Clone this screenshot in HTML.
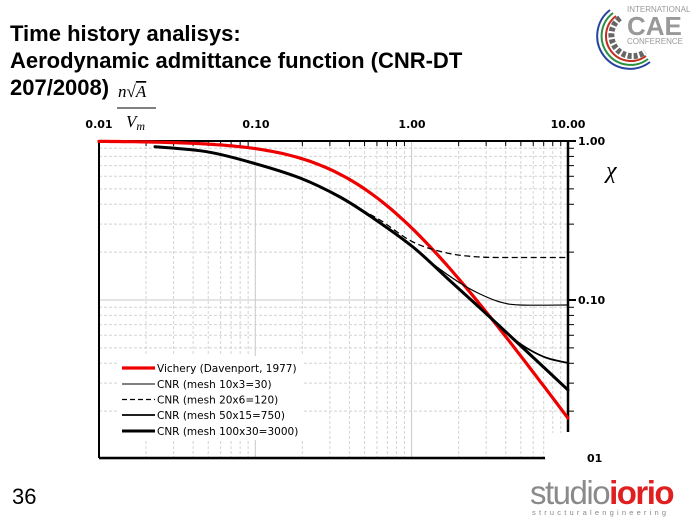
<!DOCTYPE html>
<html><head><meta charset="utf-8"><style>
body{margin:0;width:700px;height:525px;background:#fff;overflow:hidden;position:relative;font-family:"Liberation Sans",sans-serif}
.t{position:absolute;left:10px;font-weight:bold;font-size:22px;color:#000;line-height:27px}
</style></head><body>
<div class="t" style="top:20px">Time history analisys:<br>Aerodynamic admittance function (CNR-DT<br>207/2008)</div>
<svg width="700" height="525" style="position:absolute;left:0;top:0" xmlns="http://www.w3.org/2000/svg">
<g id="grid"></g>
<rect x="118" y="356" width="185" height="84" fill="#fff"/>
<rect x="546" y="433" width="40" height="30" fill="#fff"/>
<g id="ax"></g>
<g fill="none" stroke-linejoin="round" stroke-linecap="round">
<polyline id="red" stroke="#e00" stroke-width="3.2"/>
<path id="c1" stroke="#000" stroke-width="1.2"/>
<path id="c2" stroke="#000" stroke-width="1.3" stroke-dasharray="6,3.5" stroke-linecap="butt"/>
<path id="c3" stroke="#000" stroke-width="1.8"/>
<path id="c4" stroke="#000" stroke-width="3"/>
</g>
<g font-family="DejaVu Sans,sans-serif" font-size="10.5" fill="#000">
<line x1="122" y1="368" x2="155" y2="368" stroke="#e00" stroke-width="3.2"/><text x="157" y="372">Vichery (Davenport, 1977)</text>
<line x1="122" y1="384" x2="155" y2="384" stroke="#000" stroke-width="1"/><text x="157" y="388">CNR (mesh 10x3=30)</text>
<line x1="122" y1="399.5" x2="155" y2="399.5" stroke="#000" stroke-width="1.2" stroke-dasharray="5,3"/><text x="157" y="403.5">CNR (mesh 20x6=120)</text>
<line x1="122" y1="415" x2="155" y2="415" stroke="#000" stroke-width="1.8"/><text x="157" y="419">CNR (mesh 50x15=750)</text>
<line x1="122" y1="431" x2="155" y2="431" stroke="#000" stroke-width="3"/><text x="157" y="435">CNR (mesh 100x30=3000)</text>
</g>
<g font-family="DejaVu Sans,sans-serif" font-size="11" font-weight="bold">
<text x="99" y="128" text-anchor="middle">0.01</text>
<text x="256" y="128" text-anchor="middle">0.10</text>
<text x="412" y="128" text-anchor="middle">1.00</text>
<text x="568" y="128" text-anchor="middle">10.00</text>
<text x="578" y="145">1.00</text>
<text x="578" y="304">0.10</text>
<text x="587" y="462">01</text>
</g>
<text x="606" y="178" font-family="Liberation Serif,serif" font-style="italic" font-size="24">χ</text>
<g font-family="Liberation Serif,serif" font-style="italic" font-size="17">
<text x="118" y="97">n√<tspan text-decoration="overline">A</tspan></text>
<line x1="117" y1="108" x2="156" y2="108" stroke="#000" stroke-width="1"/>
<text x="126" y="127">V<tspan font-size="12" dy="3">m</tspan></text>
</g>
<text x="12" y="504" font-size="22" font-family="Liberation Sans,sans-serif">36</text>
<text x="530" y="504" font-size="33" font-family="Liberation Sans,sans-serif" letter-spacing="-1.5"><tspan fill="#8a8a8a">studio</tspan><tspan fill="#e02020" font-weight="bold">iorio</tspan></text>
<text x="532" y="515" font-size="7.5" fill="#888" letter-spacing="3.2" font-family="Liberation Sans,sans-serif">structuralengineering</text>
<g fill="none" stroke-width="2">
<path d="M610,10 A30,30 0 1 0 650,62" stroke="#2545a0"/>
<path d="M613,13 A27,27 0 1 0 648,59" stroke="#2a9040"/>
<path d="M616,16 A24,24 0 1 0 646,56" stroke="#c03020"/>
<path d="M620,18 A20,20 0 1 0 645,52" stroke="#666" stroke-width="6" stroke-dasharray="4,2"/>
</g>
<text x="627" y="12" font-size="8" fill="#999">INTERNATIONAL</text>
<text x="627" y="35" font-size="26" fill="#999" font-weight="bold">CAE</text>
<text x="627" y="44" font-size="8" fill="#999">CONFERENCE</text>
</svg>
<script>
var X=f=>99+156.3*Math.log10(f/0.01), Y=v=>141-159*Math.log10(v);
var g='',a='';
for(var d=-2;d<1;d++)for(var k=1;k<10;k++){var x=X(k*Math.pow(10,d));
 g+=`<line x1="${x}" y1="141" x2="${x}" y2="458" stroke="${k>1?'#d4d4d4':'#c8c8c8'}" stroke-width="1" ${k>1?'stroke-dasharray="3,2"':''}/>`;
 if(k>1)a+=`<line x1="${x}" y1="141" x2="${x}" y2="146" stroke="#000"/>`;}
for(var d=-2;d<0;d++)for(var k=1;k<10;k++){var y=Y(k*Math.pow(10,d));
 g+=`<line x1="99" y1="${y}" x2="568" y2="${y}" stroke="${k>1?'#d4d4d4':'#c8c8c8'}" stroke-width="1" ${k>1?'stroke-dasharray="3,2"':''}/>`;
 if(y<432)a+=`<line x1="568" y1="${y}" x2="574" y2="${y}" stroke="#000"/>`;}
a+='<line x1="99" y1="141" x2="568" y2="141" stroke="#000" stroke-width="2"/>';
a+='<line x1="99" y1="141" x2="99" y2="458" stroke="#000" stroke-width="2"/>';
a+='<line x1="99" y1="458" x2="545" y2="458" stroke="#000" stroke-width="2.5"/>';
a+='<line x1="568" y1="141" x2="568" y2="432" stroke="#000" stroke-width="2.5"/>';
a+='<line x1="568" y1="141" x2="576" y2="141" stroke="#000" stroke-width="2"/><line x1="568" y1="300" x2="576" y2="300" stroke="#000" stroke-width="2"/>';
document.getElementById('grid').innerHTML=g;document.getElementById('ax').innerHTML=a;
var p=[];for(var i=0;i<=120;i++){var f=0.01*Math.pow(1000,i/120);p.push(X(f).toFixed(1)+','+Y(1/(1+Math.pow(2*f,4/3))).toFixed(1));}
document.getElementById('red').setAttribute('points',p.join(' '));
function cr(P){var s='M'+P[0][0]+','+P[0][1];for(var i=0;i<P.length-1;i++){var p0=P[i-1]||P[i],p1=P[i],p2=P[i+1],p3=P[i+2]||p2;
s+=` C${p1[0]+(p2[0]-p0[0])/6},${p1[1]+(p2[1]-p0[1])/6} ${p2[0]-(p3[0]-p1[0])/6},${p2[1]-(p3[1]-p1[1])/6} ${p2[0]},${p2[1]}`;}return s;}
var base=[[155,146.7],[206.7,151.7],[253,163],[300,178],[340,197],[373,218],[413,247],[447,278],[480,308],[507,333]];
document.getElementById('c4').setAttribute('d',cr(base.concat([[537,361],[568,390]])));
document.getElementById('c3').setAttribute('d',cr(base.slice(0,9).concat([[500,326],[515,340],[530,350],[547,358],[568,363]])));
document.getElementById('c1').setAttribute('d',cr(base.slice(0,7).concat([[433,264],[460,283],[480,294],[500,302],[520,305],[568,305]])));
document.getElementById('c2').setAttribute('d',cr(base.slice(0,5).concat([[356,207],[380,220],[413,242],[447,253],[480,257],[520,257.5],[568,257.5]])));
</script>
</body></html>
